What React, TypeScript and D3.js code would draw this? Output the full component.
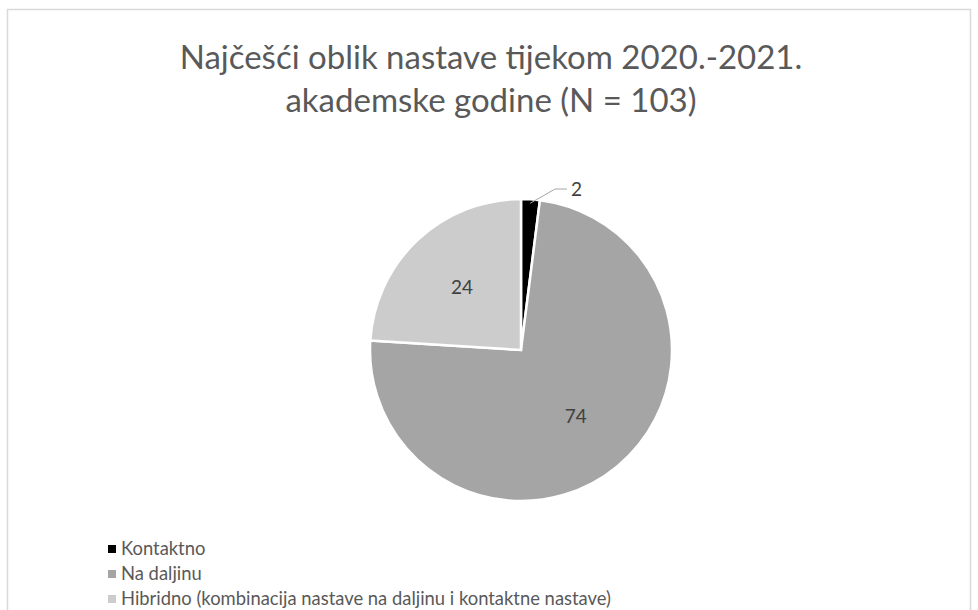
import React, { useEffect, useRef } from "react";
import * as d3 from "d3";

const categories = [
  "Kontaktno",
  "Na daljinu",
  "Hibridno (kombinacija nastave na daljinu i kontaktne nastave)",
];
const values = [2, 74, 24];
const colors = ["#000000", "#a5a5a5", "#cccccc"];
const titleLines = ["Najčešći oblik nastave tijekom 2020.-2021.", "akademske godine (N = 103)"];

const W = 978;
const H = 610;
const FONT = "Lato, 'Open Sans', sans-serif";

export default function App() {
  const ref = useRef<SVGSVGElement | null>(null);

  useEffect(() => {
    const svg = d3.select(ref.current);
    svg.selectAll("*").remove();

    svg.append("rect").attr("width", W).attr("height", H).attr("fill", "#ffffff");
    svg
      .append("rect")
      .attr("x", 7.5)
      .attr("y", 9.5)
      .attr("width", 963)
      .attr("height", 700)
      .attr("fill", "none")
      .attr("stroke", "#d9d9d9")
      .attr("stroke-width", 1.5);

    const title = svg
      .append("text")
      .attr("text-anchor", "middle")
      .attr("font-family", FONT)
      .attr("font-size", 33)
      .attr("fill", "#595959");
    titleLines.forEach((t, i) => {
      title
        .append("tspan")
        .attr("x", 491)
        .attr("y", 69 + i * 43)
        .text(t);
    });

    const cx = 521, cy = 350, r = 151;
    const pie = d3.pie<number>().sort(null).value((d) => d);
    const arcs = pie(values);
    const arc = d3.arc<d3.PieArcDatum<number>>().innerRadius(0).outerRadius(r);

    const g = svg.append("g").attr("transform", `translate(${cx},${cy})`);
    g.selectAll("path.slice")
      .data(arcs)
      .join("path")
      .attr("class", "slice")
      .attr("d", arc as any)
      .attr("fill", (_, i) => colors[i])
      .attr("stroke", "#ffffff")
      .attr("stroke-width", 2.5)
      .attr("stroke-linejoin", "miter");

    arcs.forEach((a, i) => {
      if (i === 0) return;
      const mid = (a.startAngle + a.endAngle) / 2;
      const k = r * 0.57;
      const x = Math.sin(mid) * k;
      const y = -Math.cos(mid) * k;
      g.append("text")
        .attr("x", x)
        .attr("y", y)
        .attr("dy", "0.35em")
        .attr("text-anchor", "middle")
        .attr("font-family", FONT)
        .attr("font-size", 19)
        .attr("fill", "#404040")
        .text(values[i]);
    });

    const a0 = arcs[0];
    const mid0 = (a0.startAngle + a0.endAngle) / 2;
    const px = Math.sin(mid0) * (r - 4);
    const py = -Math.cos(mid0) * (r - 4);
    const lx = 46, ly = -161;
    g.append("polyline")
      .attr("points", `${px},${py} ${lx - 12},${ly} ${lx},${ly}`)
      .attr("fill", "none")
      .attr("stroke", "#a6a6a6")
      .attr("stroke-width", 1);
    g.append("text")
      .attr("x", lx + 4)
      .attr("y", ly)
      .attr("dy", "0.35em")
      .attr("font-family", FONT)
      .attr("font-size", 19)
      .attr("fill", "#404040")
      .text(values[0]);

    const leg = svg.append("g");
    categories.forEach((c, i) => {
      const y = 549 + i * 25;
      leg
        .append("rect")
        .attr("x", 108)
        .attr("y", y - 4)
        .attr("width", 8)
        .attr("height", 8)
        .attr("fill", colors[i]);
      leg
        .append("text")
        .attr("x", 121)
        .attr("y", y)
        .attr("dy", "0.35em")
        .attr("font-family", FONT)
        .attr("font-size", 18.4)
        .attr("fill", "#595959")
        .text(c);
    });
  }, []);

  return (
    <div style={{ position: "absolute", left: 0, top: 0 }}>
      <svg ref={ref} width={W} height={H} style={{ display: "block" }} />
    </div>
  );
}
